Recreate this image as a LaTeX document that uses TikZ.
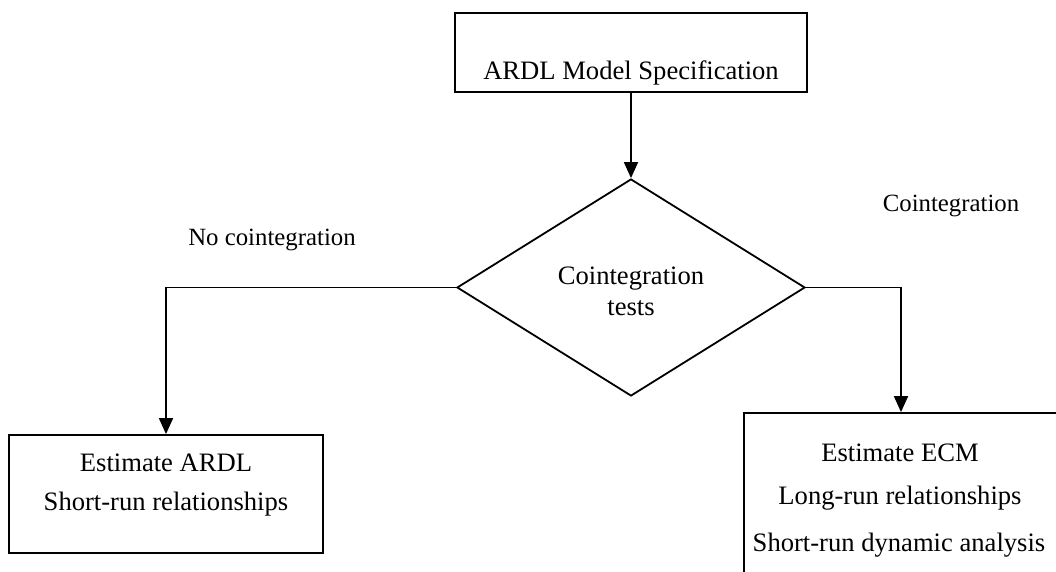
\documentclass[tikz,border=0pt]{standalone}
\usepackage{fontspec}
\setmainfont{Liberation Serif}
\usetikzlibrary{shapes.geometric}
\usetikzlibrary{arrows.meta}

\begin{document}
\begin{tikzpicture}[x=0.5pt,y=-0.5pt,line width=0.9pt,
    box/.style={draw,rectangle,inner sep=0pt},
    decision/.style={draw,diamond,inner sep=0pt,
      minimum width=174pt,minimum height=108.5pt},
    txt/.style={font=\fontsize{13.3}{15.5}\selectfont,align=center},
    lbl/.style={font=\fontsize{12.4}{14}\selectfont},
    flow/.style={-{Triangle[width=7pt,length=8pt]}}]
  \useasboundingbox (0,0) rectangle (1056,572);
  % boxes
  \node[box,minimum width=176pt,minimum height=39.5pt] (spec) at (631,52.5) {};
  \node[txt] (spectxt) at (631,73) {ARDL Model Specification};
  \node[decision] (test) at (631,287.5) {};
  \node[txt] (testtxt) at (631,291) {Cointegration\\tests};
  \node[box,minimum width=157pt,minimum height=59pt] (ardl) at (166,494) {};
  \node[txt] (ardltxt) at (166,463) {Estimate ARDL};
  \node[txt] (ardlshort) at (166,504) {Short-run relationships};
  \node[box,minimum width=157pt,minimum height=81pt] (ecm) at (901,494) {};
  \node[txt] (ecmtxt) at (900,453) {Estimate ECM};
  \node[txt] (ecmlong) at (900,498) {Long-run relationships};
  \node[txt] (ecmshort) at (899,545) {Short-run dynamic analysis};
  % connectors
  \draw[flow] (spec) -- (test);
  \draw[flow] (test.west) -| (ardl.north);
  \draw[flow] (test.east) -| (ecm.north);
  \node[lbl] (nocoint) at (272,240) {No cointegration};
  \node[lbl] (coint) at (951,206) {Cointegration};
\end{tikzpicture}
\end{document}
